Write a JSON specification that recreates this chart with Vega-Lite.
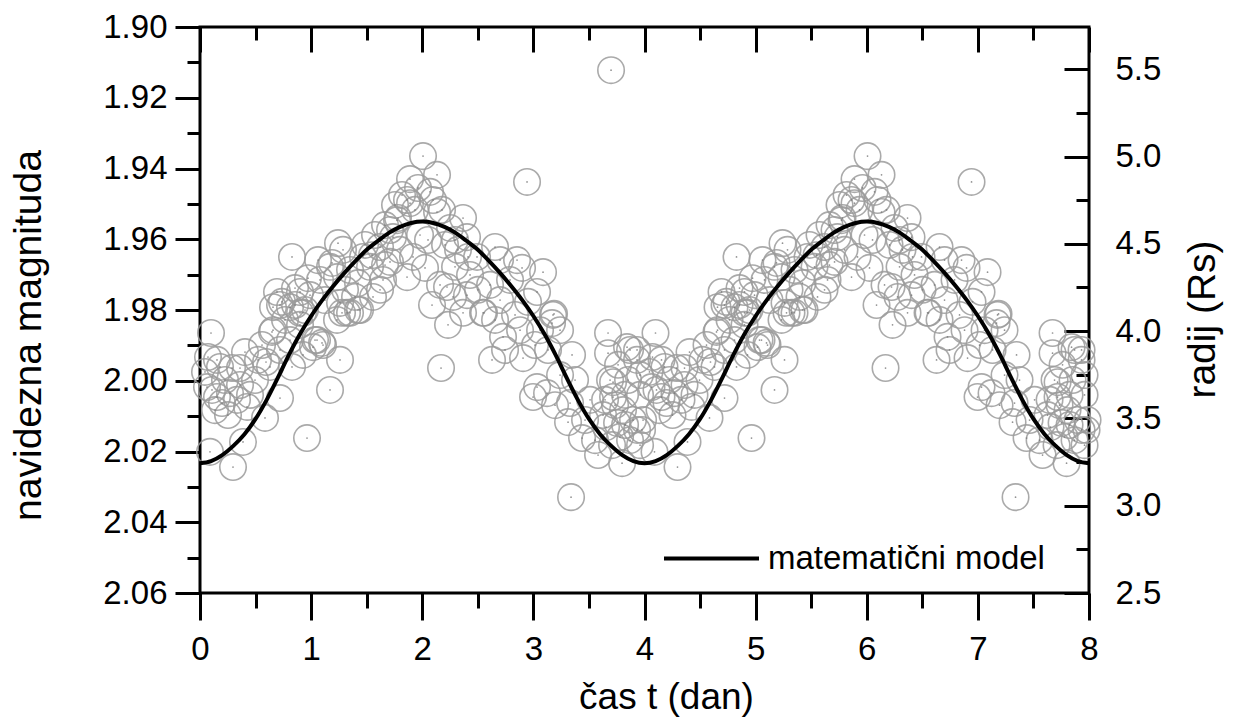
{
"$schema":"https://vega.github.io/schema/vega-lite/v6.json",
"width":889,"height":566,
"autosize":{"type":"none"},
"padding":{"left":200,"top":27,"right":149,"bottom":130},
"background":"white",
"config":{
 "view":{"stroke":"black","strokeWidth":3},
 "axis":{"grid":false,"domain":false,"tickColor":"black","tickWidth":3,"labelColor":"black","titleColor":"black","labelFont":"Liberation Sans","titleFont":"Liberation Sans","labelFontSize":33,"titleFontSize":39,"titleFontWeight":"normal","labelFlush":false,"labelOverlap":false},
 "legend":{"labelFont":"Liberation Sans","labelFontSize":33,"labelColor":"black"}
},
"datasets":{
 "obs":[
{"t":0.099,"m":1.9865},{"t":0.072,"m":1.9933},{"t":0.153,"m":1.9941},{"t":0.180,"m":1.9961},{"t":0.288,"m":1.9964},{"t":0.360,"m":1.9964},{"t":0.063,"m":2.0018},{"t":0.108,"m":2.0026},{"t":0.153,"m":2.0046},{"t":0.198,"m":2.0063},
{"t":0.270,"m":2.0035},{"t":0.333,"m":2.0054},{"t":0.423,"m":2.0074},{"t":0.090,"m":2.0201},{"t":0.297,"m":2.0244},{"t":0.387,"m":2.0173},{"t":0.585,"m":2.0105},{"t":0.720,"m":2.0049},{"t":0.828,"m":1.9961},{"t":0.630,"m":1.9961},
{"t":0.594,"m":1.9947},{"t":0.648,"m":1.9862},{"t":0.720,"m":1.9913},{"t":0.963,"m":2.0162},{"t":1.170,"m":2.0026},{"t":1.260,"m":1.9941},{"t":1.107,"m":1.9899},{"t":1.017,"m":1.9905},{"t":1.053,"m":1.9885},{"t":0.900,"m":1.9842},
{"t":0.927,"m":1.9808},{"t":0.657,"m":1.9792},{"t":0.720,"m":1.9786},{"t":0.810,"m":1.9792},{"t":0.900,"m":1.9808},{"t":1.233,"m":1.9828},{"t":1.323,"m":1.9808},{"t":1.440,"m":1.9800},{"t":0.828,"m":1.9650},{"t":1.062,"m":1.9659},
{"t":0.972,"m":1.9710},{"t":1.188,"m":1.9667},{"t":1.242,"m":1.9611},{"t":0.693,"m":1.9749},{"t":0.738,"m":1.9777},{"t":0.855,"m":1.9786},{"t":0.945,"m":1.9800},{"t":0.657,"m":1.9857},{"t":1.035,"m":1.9885},{"t":1.098,"m":1.9893},
{"t":1.278,"m":1.9808},{"t":1.287,"m":1.9630},{"t":1.467,"m":1.9650},{"t":1.530,"m":1.9678},{"t":1.647,"m":1.9715},{"t":1.557,"m":1.9763},{"t":1.422,"m":1.9800},{"t":1.350,"m":1.9808},{"t":1.260,"m":1.9780},{"t":1.170,"m":1.9678},
{"t":1.233,"m":1.9707},{"t":2.007,"m":1.9365},{"t":1.890,"m":1.9430},{"t":2.133,"m":1.9418},{"t":1.818,"m":1.9475},{"t":1.863,"m":1.9489},{"t":1.890,"m":1.9498},{"t":2.070,"m":1.9466},{"t":2.097,"m":1.9489},{"t":1.782,"m":1.9540},
{"t":2.133,"m":1.9523},{"t":2.178,"m":1.9517},{"t":2.367,"m":1.9540},{"t":1.710,"m":1.9574},{"t":1.737,"m":1.9594},{"t":2.403,"m":1.9594},{"t":1.620,"m":1.9622},{"t":1.917,"m":1.9650},{"t":2.025,"m":1.9681},{"t":1.863,"m":1.9707},
{"t":2.295,"m":1.9678},{"t":2.412,"m":1.9650},{"t":2.493,"m":1.9650},{"t":2.403,"m":1.9758},{"t":2.088,"m":1.9786},{"t":2.547,"m":1.9808},{"t":2.232,"m":1.9842},{"t":2.223,"m":1.9735},{"t":2.277,"m":1.9763},{"t":2.169,"m":1.9964},
{"t":2.367,"m":1.9808},{"t":2.727,"m":1.9876},{"t":2.628,"m":1.9941},{"t":2.907,"m":1.9936},{"t":3.015,"m":1.9899},{"t":3.177,"m":1.9814},{"t":2.997,"m":2.0046},{"t":3.123,"m":2.0035},{"t":3.330,"m":2.0063},{"t":3.348,"m":1.9927},
{"t":3.312,"m":2.0117},{"t":3.438,"m":2.0162},{"t":3.582,"m":2.0210},{"t":3.798,"m":2.0233},{"t":3.339,"m":2.0329},{"t":3.672,"m":1.9865},{"t":3.672,"m":1.9922},{"t":3.690,"m":1.9998},{"t":3.717,"m":2.0046},{"t":3.807,"m":2.0083},
{"t":3.897,"m":2.0111},{"t":3.933,"m":2.0139},{"t":3.870,"m":2.0168},{"t":3.870,"m":1.9913},{"t":3.933,"m":1.9941},{"t":3.753,"m":2.0119},{"t":3.780,"m":2.0159},{"t":3.033,"m":2.0018},{"t":3.654,"m":2.0131},{"t":3.717,"m":2.0004},
{"t":3.978,"m":2.0139},{"t":3.987,"m":2.0111},{"t":2.943,"m":1.9438},{"t":2.655,"m":1.9622},{"t":2.700,"m":1.9659},{"t":2.898,"m":1.9681},{"t":2.853,"m":1.9659},{"t":3.087,"m":1.9693},{"t":3.033,"m":1.9749},{"t":2.556,"m":1.9808},
{"t":3.186,"m":1.9811},{"t":3.168,"m":1.9837},{"t":3.843,"m":1.9905},{"t":3.933,"m":1.9913},{"t":3.699,"m":1.9122},{"t":1.773,"m":1.9546},{"t":1.935,"m":1.9517},{"t":1.980,"m":1.9588},{"t":2.052,"m":1.9602},{"t":2.205,"m":1.9616},
{"t":1.800,"m":1.9630},{"t":1.665,"m":1.9673},{"t":2.160,"m":1.9729},{"t":2.295,"m":1.9602},{"t":1.755,"m":1.9503},{"t":1.962,"m":1.9455},{"t":3.645,"m":2.0054},{"t":3.735,"m":2.0069},{"t":3.825,"m":2.0040},{"t":3.960,"m":2.0040},
{"t":3.852,"m":1.9998},{"t":3.762,"m":1.9955},{"t":3.960,"m":1.9984},{"t":3.627,"m":2.0097},{"t":3.825,"m":2.0125},{"t":3.960,"m":2.0182},{"t":3.708,"m":2.0182},{"t":0.045,"m":1.9975},{"t":0.225,"m":1.9998},{"t":0.360,"m":2.0012},
{"t":0.450,"m":2.0040},{"t":0.135,"m":2.0083},{"t":0.252,"m":2.0097},{"t":0.495,"m":1.9998},{"t":0.522,"m":1.9941},{"t":0.405,"m":1.9919},{"t":0.558,"m":1.9899},{"t":0.765,"m":1.9828},{"t":0.900,"m":1.9749},{"t":0.990,"m":1.9758},
{"t":1.080,"m":1.9715},{"t":1.125,"m":1.9772},{"t":0.810,"m":1.9885},{"t":0.927,"m":1.9927},{"t":0.855,"m":1.9738},{"t":1.350,"m":1.9687},{"t":1.422,"m":1.9724},{"t":1.485,"m":1.9616},{"t":1.548,"m":1.9645},{"t":1.620,"m":1.9743},
{"t":1.710,"m":1.9664},{"t":1.395,"m":1.9763},{"t":1.305,"m":1.9743},{"t":1.575,"m":1.9588},{"t":1.665,"m":1.9560},{"t":2.250,"m":1.9568},{"t":2.322,"m":1.9630},{"t":2.430,"m":1.9701},{"t":2.502,"m":1.9743},{"t":2.610,"m":1.9729},
{"t":2.700,"m":1.9772},{"t":2.790,"m":1.9715},{"t":2.835,"m":1.9814},{"t":2.655,"m":1.9828},{"t":2.745,"m":1.9913},{"t":2.880,"m":1.9857},{"t":2.952,"m":1.9777},{"t":3.060,"m":1.9857},{"t":3.240,"m":1.9857},{"t":3.132,"m":1.9913},
{"t":3.240,"m":1.9984},{"t":3.375,"m":1.9998},{"t":3.465,"m":2.0111},{"t":3.195,"m":2.0069},{"t":3.510,"m":2.0054},{"t":3.555,"m":2.0168},
{"t":4.099,"m":1.9865},{"t":4.072,"m":1.9933},{"t":4.153,"m":1.9941},{"t":4.180,"m":1.9961},{"t":4.288,"m":1.9964},{"t":4.360,"m":1.9964},{"t":4.063,"m":2.0018},{"t":4.108,"m":2.0026},{"t":4.153,"m":2.0046},{"t":4.198,"m":2.0063},
{"t":4.270,"m":2.0035},{"t":4.333,"m":2.0054},{"t":4.423,"m":2.0074},{"t":4.090,"m":2.0201},{"t":4.297,"m":2.0244},{"t":4.387,"m":2.0173},{"t":4.585,"m":2.0105},{"t":4.720,"m":2.0049},{"t":4.828,"m":1.9961},{"t":4.630,"m":1.9961},
{"t":4.594,"m":1.9947},{"t":4.648,"m":1.9862},{"t":4.720,"m":1.9913},{"t":4.963,"m":2.0162},{"t":5.170,"m":2.0026},{"t":5.260,"m":1.9941},{"t":5.107,"m":1.9899},{"t":5.017,"m":1.9905},{"t":5.053,"m":1.9885},{"t":4.900,"m":1.9842},
{"t":4.927,"m":1.9808},{"t":4.657,"m":1.9792},{"t":4.720,"m":1.9786},{"t":4.810,"m":1.9792},{"t":4.900,"m":1.9808},{"t":5.233,"m":1.9828},{"t":5.323,"m":1.9808},{"t":5.440,"m":1.9800},{"t":4.828,"m":1.9650},{"t":5.062,"m":1.9659},
{"t":4.972,"m":1.9710},{"t":5.188,"m":1.9667},{"t":5.242,"m":1.9611},{"t":4.693,"m":1.9749},{"t":4.738,"m":1.9777},{"t":4.855,"m":1.9786},{"t":4.945,"m":1.9800},{"t":4.657,"m":1.9857},{"t":5.035,"m":1.9885},{"t":5.098,"m":1.9893},
{"t":5.278,"m":1.9808},{"t":5.287,"m":1.9630},{"t":5.467,"m":1.9650},{"t":5.530,"m":1.9678},{"t":5.647,"m":1.9715},{"t":5.557,"m":1.9763},{"t":5.422,"m":1.9800},{"t":5.350,"m":1.9808},{"t":5.260,"m":1.9780},{"t":5.170,"m":1.9678},
{"t":5.233,"m":1.9707},{"t":6.007,"m":1.9365},{"t":5.890,"m":1.9430},{"t":6.133,"m":1.9418},{"t":5.818,"m":1.9475},{"t":5.863,"m":1.9489},{"t":5.890,"m":1.9498},{"t":6.070,"m":1.9466},{"t":6.097,"m":1.9489},{"t":5.782,"m":1.9540},
{"t":6.133,"m":1.9523},{"t":6.178,"m":1.9517},{"t":6.367,"m":1.9540},{"t":5.710,"m":1.9574},{"t":5.737,"m":1.9594},{"t":6.403,"m":1.9594},{"t":5.620,"m":1.9622},{"t":5.917,"m":1.9650},{"t":6.025,"m":1.9681},{"t":5.863,"m":1.9707},
{"t":6.295,"m":1.9678},{"t":6.412,"m":1.9650},{"t":6.493,"m":1.9650},{"t":6.403,"m":1.9758},{"t":6.088,"m":1.9786},{"t":6.547,"m":1.9808},{"t":6.232,"m":1.9842},{"t":6.223,"m":1.9735},{"t":6.277,"m":1.9763},{"t":6.169,"m":1.9964},
{"t":6.367,"m":1.9808},{"t":6.727,"m":1.9876},{"t":6.628,"m":1.9941},{"t":6.907,"m":1.9936},{"t":7.015,"m":1.9899},{"t":7.177,"m":1.9814},{"t":6.997,"m":2.0046},{"t":7.123,"m":2.0035},{"t":7.330,"m":2.0063},{"t":7.348,"m":1.9927},
{"t":7.312,"m":2.0117},{"t":7.438,"m":2.0162},{"t":7.582,"m":2.0210},{"t":7.798,"m":2.0233},{"t":7.339,"m":2.0329},{"t":7.672,"m":1.9865},{"t":7.672,"m":1.9922},{"t":7.690,"m":1.9998},{"t":7.717,"m":2.0046},{"t":7.807,"m":2.0083},
{"t":7.897,"m":2.0111},{"t":7.933,"m":2.0139},{"t":7.870,"m":2.0168},{"t":7.870,"m":1.9913},{"t":7.933,"m":1.9941},{"t":7.753,"m":2.0119},{"t":7.780,"m":2.0159},{"t":7.033,"m":2.0018},{"t":7.654,"m":2.0131},{"t":7.717,"m":2.0004},
{"t":7.978,"m":2.0139},{"t":7.987,"m":2.0111},{"t":6.943,"m":1.9438},{"t":6.655,"m":1.9622},{"t":6.700,"m":1.9659},{"t":6.898,"m":1.9681},{"t":6.853,"m":1.9659},{"t":7.087,"m":1.9693},{"t":7.033,"m":1.9749},{"t":6.556,"m":1.9808},
{"t":7.186,"m":1.9811},{"t":7.168,"m":1.9837},{"t":7.843,"m":1.9905},{"t":7.933,"m":1.9913},{"t":5.773,"m":1.9546},{"t":5.935,"m":1.9517},{"t":5.980,"m":1.9588},{"t":6.052,"m":1.9602},{"t":6.205,"m":1.9616},
{"t":5.800,"m":1.9630},{"t":5.665,"m":1.9673},{"t":6.160,"m":1.9729},{"t":6.295,"m":1.9602},{"t":5.755,"m":1.9503},{"t":5.962,"m":1.9455},{"t":7.645,"m":2.0054},{"t":7.735,"m":2.0069},{"t":7.825,"m":2.0040},{"t":7.960,"m":2.0040},
{"t":7.852,"m":1.9998},{"t":7.762,"m":1.9955},{"t":7.960,"m":1.9984},{"t":7.627,"m":2.0097},{"t":7.825,"m":2.0125},{"t":7.960,"m":2.0182},{"t":7.708,"m":2.0182},{"t":4.045,"m":1.9975},{"t":4.225,"m":1.9998},{"t":4.360,"m":2.0012},
{"t":4.450,"m":2.0040},{"t":4.135,"m":2.0083},{"t":4.252,"m":2.0097},{"t":4.495,"m":1.9998},{"t":4.522,"m":1.9941},{"t":4.405,"m":1.9919},{"t":4.558,"m":1.9899},{"t":4.765,"m":1.9828},{"t":4.900,"m":1.9749},{"t":4.990,"m":1.9758},
{"t":5.080,"m":1.9715},{"t":5.125,"m":1.9772},{"t":4.810,"m":1.9885},{"t":4.927,"m":1.9927},{"t":4.855,"m":1.9738},{"t":5.350,"m":1.9687},{"t":5.422,"m":1.9724},{"t":5.485,"m":1.9616},{"t":5.548,"m":1.9645},{"t":5.620,"m":1.9743},
{"t":5.710,"m":1.9664},{"t":5.395,"m":1.9763},{"t":5.305,"m":1.9743},{"t":5.575,"m":1.9588},{"t":5.665,"m":1.9560},{"t":6.250,"m":1.9568},{"t":6.322,"m":1.9630},{"t":6.430,"m":1.9701},{"t":6.502,"m":1.9743},{"t":6.610,"m":1.9729},
{"t":6.700,"m":1.9772},{"t":6.790,"m":1.9715},{"t":6.835,"m":1.9814},{"t":6.655,"m":1.9828},{"t":6.745,"m":1.9913},{"t":6.880,"m":1.9857},{"t":6.952,"m":1.9777},{"t":7.060,"m":1.9857},{"t":7.240,"m":1.9857},{"t":7.132,"m":1.9913},
{"t":7.240,"m":1.9984},{"t":7.375,"m":1.9998},{"t":7.465,"m":2.0111},{"t":7.195,"m":2.0069},{"t":7.510,"m":2.0054},{"t":7.555,"m":2.0168}
 ],
 "model":[
{"t":0.0,"m":2.0233},{"t":0.1,"m":2.0227},{"t":0.2,"m":2.0210},{"t":0.3,"m":2.0184},{"t":0.4,"m":2.0151},{"t":0.5,"m":2.0108},{"t":0.6,"m":2.0054},{"t":0.7,"m":1.9992},{"t":0.8,"m":1.9927},{"t":0.9,"m":1.9868},
{"t":1.0,"m":1.9817},{"t":1.1,"m":1.9772},{"t":1.2,"m":1.9732},{"t":1.3,"m":1.9695},{"t":1.4,"m":1.9661},{"t":1.5,"m":1.9630},{"t":1.6,"m":1.9605},{"t":1.7,"m":1.9582},{"t":1.8,"m":1.9565},{"t":1.9,"m":1.9554},
{"t":2.0,"m":1.9550},{"t":2.1,"m":1.9554},{"t":2.2,"m":1.9565},{"t":2.3,"m":1.9582},{"t":2.4,"m":1.9605},{"t":2.5,"m":1.9630},{"t":2.6,"m":1.9661},{"t":2.7,"m":1.9695},{"t":2.8,"m":1.9732},{"t":2.9,"m":1.9772},
{"t":3.0,"m":1.9817},{"t":3.1,"m":1.9868},{"t":3.2,"m":1.9927},{"t":3.3,"m":1.9992},{"t":3.4,"m":2.0054},{"t":3.5,"m":2.0108},{"t":3.6,"m":2.0151},{"t":3.7,"m":2.0184},{"t":3.8,"m":2.0210},{"t":3.9,"m":2.0227},
{"t":4.0,"m":2.0233},{"t":4.1,"m":2.0227},{"t":4.2,"m":2.0210},{"t":4.3,"m":2.0184},{"t":4.4,"m":2.0151},{"t":4.5,"m":2.0108},{"t":4.6,"m":2.0054},{"t":4.7,"m":1.9992},{"t":4.8,"m":1.9927},{"t":4.9,"m":1.9868},
{"t":5.0,"m":1.9817},{"t":5.1,"m":1.9772},{"t":5.2,"m":1.9732},{"t":5.3,"m":1.9695},{"t":5.4,"m":1.9661},{"t":5.5,"m":1.9630},{"t":5.6,"m":1.9605},{"t":5.7,"m":1.9582},{"t":5.8,"m":1.9565},{"t":5.9,"m":1.9554},
{"t":6.0,"m":1.9550},{"t":6.1,"m":1.9554},{"t":6.2,"m":1.9565},{"t":6.3,"m":1.9582},{"t":6.4,"m":1.9605},{"t":6.5,"m":1.9630},{"t":6.6,"m":1.9661},{"t":6.7,"m":1.9695},{"t":6.8,"m":1.9732},{"t":6.9,"m":1.9772},
{"t":7.0,"m":1.9817},{"t":7.1,"m":1.9868},{"t":7.2,"m":1.9927},{"t":7.3,"m":1.9992},{"t":7.4,"m":2.0054},{"t":7.5,"m":2.0108},{"t":7.6,"m":2.0151},{"t":7.7,"m":2.0184},{"t":7.8,"m":2.0210},{"t":7.9,"m":2.0227},
{"t":8.0,"m":2.0233}
 ],
 "rad":[{"t":0,"R":2.5},{"t":8,"R":5.742}]
},
"layer":[
 {
  "data":{"name":"obs"},
  "mark":{"type":"point","shape":"circle","filled":false,"size":700,"stroke":"#9c9c9c","strokeWidth":1.6,"opacity":0.85},
  "encoding":{
   "x":{"field":"t","type":"quantitative","scale":{"domain":[0,8],"nice":false,"zero":false},
        "axis":{"orient":"bottom","values":[0,1,2,3,4,5,6,7,8],"tickSize":27,"labelPadding":13,"title":"čas t (dan)","titleFontSize":37,"titlePadding":13,"titleX":466}},
   "y":{"field":"m","type":"quantitative","scale":{"domain":[1.90,2.06],"reverse":true,"nice":false,"zero":false},
        "axis":{"orient":"left","values":[1.90,1.92,1.94,1.96,1.98,2.00,2.02,2.04,2.06],"format":".2f","tickSize":25,"labelPadding":8,"title":"navidezna magnituda","titlePadding":54,"titleY":308}}
  }
 },
 {
  "data":{"name":"obs"},
  "mark":{"type":"point","shape":"circle","filled":true,"size":3,"color":"#777777","opacity":0.8},
  "encoding":{
   "x":{"field":"t","type":"quantitative","scale":{"domain":[0,8],"nice":false,"zero":false},"axis":null},
   "y":{"field":"m","type":"quantitative","scale":{"domain":[1.90,2.06],"reverse":true,"nice":false,"zero":false},"axis":null}
  }
 },
 {
  "data":{"name":"model"},
  "mark":{"type":"line","strokeWidth":4,"interpolate":"monotone"},
  "encoding":{
   "x":{"field":"t","type":"quantitative","scale":{"domain":[0,8],"nice":false,"zero":false},
        "axis":{"orient":"bottom","values":[0.5,1.5,2.5,3.5,4.5,5.5,6.5,7.5],"tickSize":15,"labels":false,"title":null}},
   "y":{"field":"m","type":"quantitative","scale":{"domain":[1.90,2.06],"reverse":true,"nice":false,"zero":false},
        "axis":{"orient":"left","values":[1.91,1.93,1.95,1.97,1.99,2.01,2.03,2.05],"tickSize":13,"labels":false,"title":null}},
   "color":{"datum":"matematični model","type":"nominal","scale":{"range":["black"]},
        "legend":{"orient":"none","legendX":462,"legendY":482,"title":null,"symbolType":"stroke","symbolSize":9025,"symbolStrokeWidth":4,"labelOffset":7,"labelLimit":0,"labelFontSize":33,"labelFont":"Liberation Sans","labelColor":"black"}}
  }
 },
 {
  "data":{"name":"rad"},
  "mark":{"type":"point","opacity":0},
  "encoding":{
   "x":{"field":"t","type":"quantitative","scale":{"domain":[0,8],"nice":false,"zero":false},
        "axis":{"orient":"top","values":[0,1,2,3,4,5,6,7,8],"tickSize":-25,"labels":false,"title":null}},
   "y":{"field":"R","type":"quantitative","scale":{"domain":[2.5,5.742],"nice":false,"zero":false},
        "axis":{"orient":"right","values":[2.5,3.0,3.5,4.0,4.5,5.0,5.5],"format":".1f","tickSize":-25,"labelPadding":51,"title":"radij (Rs)","titleAngle":270,"titlePadding":62,"titleY":292}}
  }
 },
 {
  "data":{"name":"rad"},
  "mark":{"type":"point","opacity":0},
  "encoding":{
   "x":{"field":"t","type":"quantitative","scale":{"domain":[0,8],"nice":false,"zero":false},
        "axis":{"orient":"top","values":[0.5,1.5,2.5,3.5,4.5,5.5,6.5,7.5],"tickSize":-13,"labels":false,"title":null}},
   "y":{"field":"R","type":"quantitative","scale":{"domain":[2.5,5.742],"nice":false,"zero":false},
        "axis":{"orient":"right","values":[2.75,3.25,3.75,4.25,4.75,5.25,5.75],"tickSize":-13,"labels":false,"title":null}}
  }
 }
],
"resolve":{"scale":{"y":"independent"},"axis":{"x":"independent","y":"independent"}}
}
